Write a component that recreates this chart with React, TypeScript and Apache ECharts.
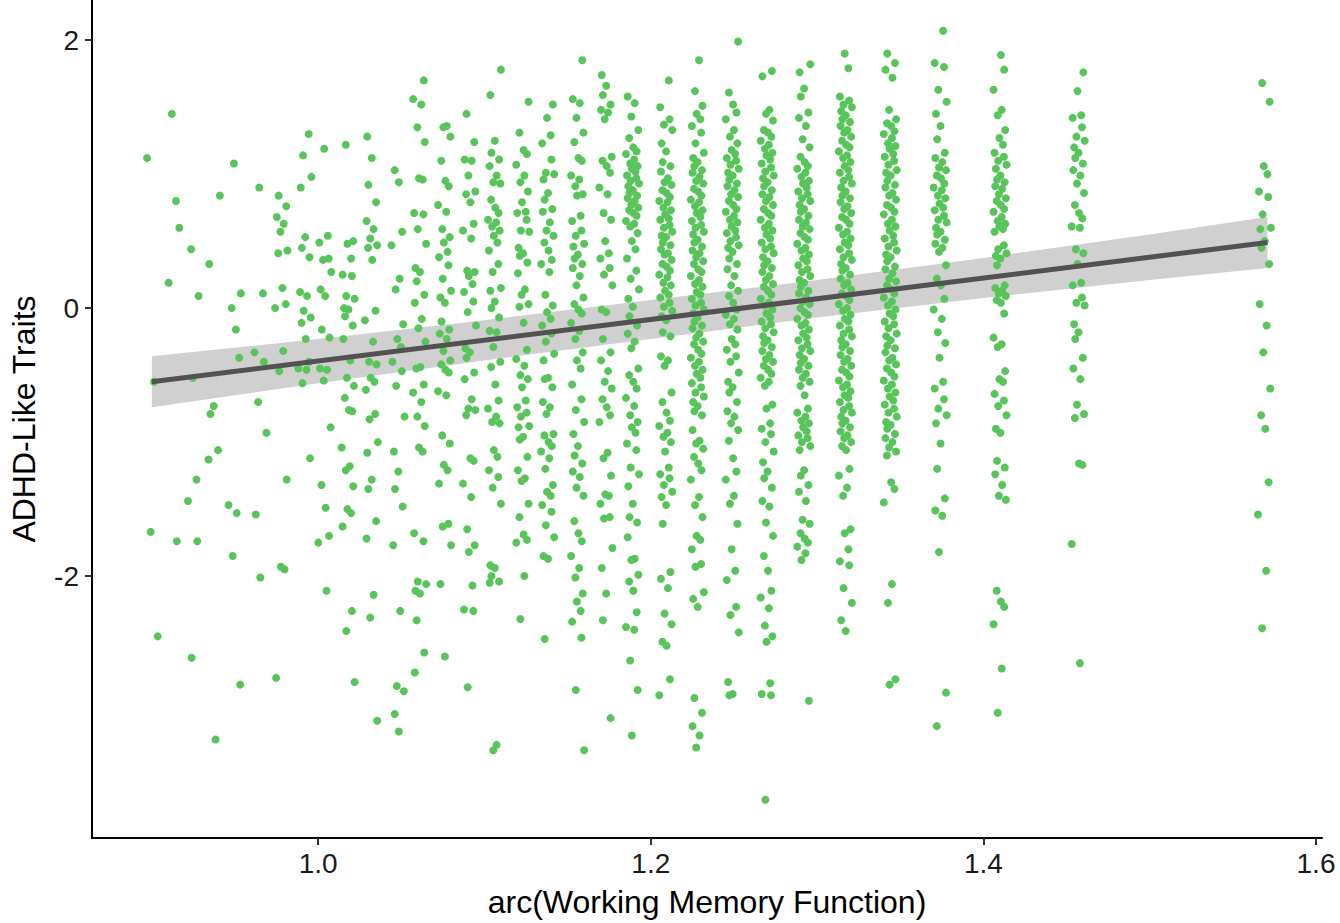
import { useEffect, useRef } from "react";
import * as echarts from "echarts";

// Axis ticks
const X_TICKS = [1.0, 1.2, 1.4, 1.6];
const Y_TICKS = [-2, 0, 2];

// Distinct arc-transformed working-memory scores (one column of points each)
const COLUMN_X = [
  0.9, 0.914, 0.925, 0.937, 0.95, 0.965, 0.978, 0.992, 1.004, 1.018, 1.032,
  1.048, 1.061, 1.076, 1.091, 1.106, 1.123, 1.138, 1.156, 1.173, 1.189, 1.209,
  1.228, 1.249, 1.27, 1.292, 1.317, 1.344, 1.374, 1.41, 1.457, 1.569,
];

// ADHD-like trait scores per column
const COL_01 = [1.12, -0.55, -1.67, -2.45];
const COL_02 = [1.45, 0.8, 0.6, 0.19, -1.74];
const COL_03 = [0.44, 0.09, -0.52, -1.28, -1.44, -1.74, -2.61];
const COL_04 = [0.84, 0.33, -0.73, -0.79, -1.06, -1.13, -3.22];
const COL_05 = [1.08, 0.11, 0.0, -0.16, -0.37, -1.47, -1.53, -1.85, -2.81];
const COL_06 = [0.9, 0.11, -0.33, -0.4, -0.7, -0.93, -1.54, -2.01];
const COL_07 = [0.84, 0.76, 0.68, 0.63, 0.57, 0.43, 0.41, 0.15, 0.03, 0.0, -0.32, -0.47, -1.28, -1.93, -1.95, -2.76];
const COL_08 = [1.3, 1.14, 0.98, 0.9, 0.53, 0.45, 0.38, 0.12, 0.09, -0.02, -0.07, -0.11, -0.23, -0.4, -0.45, -0.46, -0.56, -1.12];
const COL_09 = [1.19, 0.54, 0.49, 0.37, 0.36, 0.27, 0.14, 0.09, -0.16, -0.22, -0.45, -0.46, -0.54, -0.89, -1.32, -1.49, -1.7, -1.75, -2.11];
const COL_10 = [1.22, 0.5, 0.48, 0.37, 0.25, 0.24, 0.09, 0.07, 0.0, -0.01, -0.06, -0.13, -0.23, -0.39, -0.52, -0.58, -0.67, -0.76, -0.77, -1.04, -1.18, -1.21, -1.33, -1.5, -1.53, -1.63, -2.26, -2.41, -2.79];
const COL_11 = [1.28, 1.12, 0.92, 0.79, 0.65, 0.59, 0.52, 0.47, 0.45, 0.36, -0.02, -0.09, -0.25, -0.4, -0.42, -0.52, -0.55, -0.61, -0.79, -0.83, -1.0, -1.08, -1.28, -1.35, -1.59, -1.72, -2.14, -2.31, -3.08];
const COL_12 = [1.03, 0.94, 0.57, 0.47, 0.22, 0.14, -0.12, -0.23, -0.29, -0.4, -0.47, -0.58, -0.81, -1.07, -1.22, -1.35, -1.48, -1.77, -2.26, -2.82, -2.86, -3.03, -3.16];
const COL_13 = [1.7, 1.56, 1.52, 1.35, 1.24, 0.97, 0.96, 0.71, 0.7, 0.59, 0.48, 0.3, 0.27, 0.2, 0.1, 0.04, -0.08, -0.15, -0.25, -0.45, -0.44, -0.57, -0.63, -0.7, -0.81, -0.88, -1.04, -1.07, -1.68, -1.74, -2.04, -2.06, -2.11, -2.13, -2.33, -2.57, -2.72];
const COL_14 = [1.36, 1.35, 1.28, 1.1, 0.95, 0.91, 0.77, 0.72, 0.59, 0.53, 0.49, 0.42, 0.38, 0.32, 0.22, 0.13, 0.08, 0.04, -0.1, -0.16, -0.19, -0.23, -0.32, -0.39, -0.42, -0.46, -0.48, -0.62, -0.65, -0.95, -1.01, -1.17, -1.21, -1.31, -1.61, -1.63, -1.77, -2.06, -2.6];
const COL_15 = [1.45, 1.24, 1.11, 1.1, 0.99, 0.87, 0.85, 0.79, 0.63, 0.58, 0.52, 0.28, 0.27, 0.24, 0.18, 0.12, 0.05, -0.03, -0.13, -0.3, -0.33, -0.37, -0.48, -0.53, -0.68, -0.75, -0.76, -0.8, -1.12, -1.14, -1.31, -1.41, -1.65, -1.77, -1.82, -2.07, -2.25, -2.26, -2.83];
const COL_16 = [1.78, 1.59, 1.25, 1.16, 1.11, 1.06, 0.99, 0.94, 0.93, 0.81, 0.75, 0.71, 0.66, 0.64, 0.61, 0.58, 0.54, 0.49, 0.43, 0.33, 0.27, 0.15, 0.13, 0.05, 0.0, -0.07, -0.17, -0.18, -0.29, -0.4, -0.44, -0.57, -0.69, -0.75, -0.81, -0.85, -0.86, -1.06, -1.11, -1.21, -1.26, -1.34, -1.46, -1.92, -1.94, -2.0, -2.04, -2.05, -3.26, -3.3];
const COL_17 = [1.54, 1.31, 1.18, 1.15, 1.07, 0.99, 0.94, 0.87, 0.79, 0.72, 0.71, 0.66, 0.58, 0.57, 0.45, 0.41, 0.39, 0.34, 0.26, 0.14, 0.1, 0.03, 0.01, -0.11, -0.31, -0.38, -0.43, -0.5, -0.53, -0.59, -0.69, -0.74, -0.78, -0.81, -0.88, -0.89, -0.96, -0.98, -1.11, -1.21, -1.27, -1.29, -1.46, -1.56, -1.69, -1.73, -1.75, -2.0, -2.32];
const COL_18 = [1.52, 1.42, 1.29, 1.23, 1.11, 1.01, 1.0, 0.96, 0.86, 0.81, 0.74, 0.72, 0.64, 0.58, 0.54, 0.49, 0.43, 0.36, 0.33, 0.27, 0.1, 0.02, -0.03, -0.08, -0.13, -0.19, -0.25, -0.34, -0.39, -0.52, -0.53, -0.59, -0.7, -0.74, -0.79, -0.94, -0.95, -1.0, -1.03, -1.07, -1.12, -1.2, -1.32, -1.37, -1.4, -1.47, -1.52, -1.62, -1.71, -1.85, -1.87, -2.47];
const COL_19 = [1.85, 1.56, 1.53, 1.42, 1.31, 1.24, 1.12, 1.1, 0.99, 0.96, 0.91, 0.85, 0.84, 0.69, 0.65, 0.58, 0.54, 0.48, 0.46, 0.4, 0.37, 0.33, 0.3, 0.24, 0.17, 0.08, 0.03, -0.01, -0.04, -0.11, -0.17, -0.23, -0.33, -0.39, -0.45, -0.57, -0.68, -0.76, -0.85, -0.94, -1.03, -1.1, -1.16, -1.22, -1.26, -1.34, -1.4, -1.59, -1.68, -1.74, -1.85, -1.94, -2.01, -2.13, -2.19, -2.26, -2.34, -2.46, -2.85, -3.3];
const COL_20 = [1.74, 1.66, 1.59, 1.52, 1.48, 1.46, 1.41, 1.13, 1.1, 1.06, 1.01, 0.9, 0.85, 0.71, 0.66, 0.5, 0.41, 0.37, 0.3, 0.25, 0.17, -0.01, -0.03, -0.23, -0.33, -0.39, -0.47, -0.55, -0.6, -0.68, -0.74, -0.8, -0.85, -1.08, -1.12, -1.25, -1.39, -1.4, -1.46, -1.56, -1.57, -1.79, -1.94, -2.13, -2.33, -3.06];
const COL_21 = [1.58, 1.53, 1.43, 1.33, 1.27, 1.2, 1.17, 1.15, 1.11, 1.08, 1.06, 1.04, 1.02, 0.99, 0.97, 0.95, 0.93, 0.91, 0.88, 0.86, 0.84, 0.82, 0.8, 0.77, 0.75, 0.73, 0.71, 0.69, 0.65, 0.63, 0.61, 0.56, 0.5, 0.44, 0.37, 0.28, 0.22, 0.14, 0.07, 0.01, -0.06, -0.13, -0.19, -0.25, -0.3, -0.45, -0.5, -0.55, -0.6, -0.67, -0.73, -0.8, -0.85, -0.89, -0.93, -1.01, -1.06, -1.19, -1.24, -1.33, -1.46, -1.56, -1.6, -1.71, -1.87, -1.88, -1.99, -2.04, -2.11, -2.27, -2.38, -2.4, -2.63, -2.85, -3.19];
const COL_22 = [1.7, 1.5, 1.41, 1.37, 1.33, 1.23, 1.17, 1.09, 1.06, 1.02, 0.97, 0.94, 0.92, 0.88, 0.86, 0.83, 0.8, 0.79, 0.75, 0.73, 0.7, 0.67, 0.66, 0.62, 0.6, 0.57, 0.54, 0.53, 0.49, 0.47, 0.44, 0.41, 0.4, 0.36, 0.33, 0.31, 0.28, 0.25, 0.23, 0.19, 0.17, 0.13, 0.1, 0.08, 0.04, 0.01, -0.02, -0.06, -0.09, -0.18, -0.21, -0.36, -0.39, -0.43, -0.63, -0.7, -0.78, -0.84, -0.88, -0.93, -0.96, -1.0, -1.07, -1.19, -1.24, -1.27, -1.32, -1.37, -1.41, -1.47, -1.61, -1.97, -2.02, -2.09, -2.28, -2.36, -2.49, -2.52, -2.77, -2.89];
const COL_23 = [1.85, 1.62, 1.51, 1.45, 1.41, 1.36, 1.31, 1.23, 1.16, 1.12, 1.09, 1.06, 1.03, 1.01, 0.98, 0.95, 0.93, 0.89, 0.87, 0.84, 0.81, 0.79, 0.76, 0.73, 0.71, 0.68, 0.65, 0.62, 0.6, 0.57, 0.55, 0.51, 0.49, 0.46, 0.43, 0.41, 0.38, 0.35, 0.33, 0.29, 0.27, 0.24, 0.21, 0.18, 0.16, 0.12, 0.1, 0.07, 0.04, 0.02, -0.01, -0.04, -0.07, -0.1, -0.13, -0.15, -0.19, -0.22, -0.25, -0.27, -0.31, -0.34, -0.37, -0.4, -0.43, -0.46, -0.49, -0.52, -0.56, -0.59, -0.63, -0.66, -0.7, -0.73, -0.77, -0.8, -0.91, -0.99, -1.01, -1.05, -1.11, -1.16, -1.21, -1.28, -1.41, -1.47, -1.56, -1.7, -1.73, -1.8, -1.91, -1.93, -2.12, -2.17, -2.23, -2.91, -3.02, -3.12, -3.19, -3.28];
const COL_24 = [1.99, 1.61, 1.52, 1.46, 1.41, 1.33, 1.28, 1.23, 1.18, 1.15, 1.12, 1.1, 1.07, 1.04, 1.01, 0.99, 0.96, 0.93, 0.91, 0.88, 0.85, 0.83, 0.8, 0.77, 0.74, 0.72, 0.69, 0.66, 0.64, 0.61, 0.58, 0.56, 0.53, 0.5, 0.47, 0.45, 0.42, 0.37, 0.33, 0.29, 0.24, 0.17, 0.13, 0.09, 0.04, -0.01, -0.05, -0.08, -0.12, -0.16, -0.23, -0.27, -0.31, -0.36, -0.4, -0.48, -0.55, -0.59, -0.63, -0.7, -0.77, -0.81, -0.86, -0.91, -0.99, -1.12, -1.22, -1.28, -1.4, -1.46, -1.61, -1.8, -1.96, -2.03, -2.23, -2.29, -2.42, -2.79, -2.88, -2.89];
const COL_25 = [1.77, 1.73, 1.48, 1.45, 1.4, 1.33, 1.31, 1.28, 1.25, 1.22, 1.19, 1.16, 1.14, 1.11, 1.08, 1.05, 1.02, 0.99, 0.97, 0.94, 0.91, 0.88, 0.85, 0.83, 0.8, 0.77, 0.74, 0.71, 0.69, 0.66, 0.63, 0.6, 0.58, 0.55, 0.52, 0.49, 0.46, 0.44, 0.41, 0.38, 0.35, 0.32, 0.3, 0.27, 0.24, 0.21, 0.18, 0.16, 0.13, 0.1, 0.07, 0.04, 0.02, -0.01, -0.04, -0.07, -0.1, -0.12, -0.15, -0.18, -0.21, -0.24, -0.26, -0.29, -0.32, -0.35, -0.38, -0.4, -0.43, -0.46, -0.49, -0.52, -0.55, -0.58, -0.72, -0.75, -0.86, -0.9, -0.94, -1.0, -1.07, -1.15, -1.22, -1.27, -1.34, -1.44, -1.48, -1.6, -1.7, -1.85, -1.96, -2.11, -2.16, -2.24, -2.37, -2.45, -2.49, -2.8, -2.88, -2.89, -3.67];
const COL_26 = [1.82, 1.76, 1.64, 1.58, 1.46, 1.42, 1.36, 1.26, 1.2, 1.13, 1.09, 1.06, 1.04, 1.01, 0.98, 0.95, 0.93, 0.9, 0.87, 0.85, 0.82, 0.8, 0.77, 0.74, 0.72, 0.69, 0.66, 0.64, 0.61, 0.59, 0.56, 0.53, 0.51, 0.48, 0.45, 0.43, 0.4, 0.37, 0.35, 0.32, 0.29, 0.27, 0.24, 0.21, 0.19, 0.16, 0.13, 0.11, 0.08, 0.05, 0.03, 0.0, -0.03, -0.05, -0.08, -0.11, -0.13, -0.16, -0.19, -0.22, -0.24, -0.27, -0.3, -0.32, -0.35, -0.38, -0.41, -0.43, -0.46, -0.49, -0.52, -0.55, -0.58, -0.65, -0.75, -0.78, -0.81, -0.84, -0.86, -0.89, -0.92, -0.95, -0.97, -1.0, -1.03, -1.06, -1.21, -1.25, -1.32, -1.37, -1.44, -1.58, -1.61, -1.68, -1.72, -1.75, -1.78, -1.83, -1.88, -2.93];
const COL_27 = [1.9, 1.79, 1.58, 1.55, 1.52, 1.5, 1.47, 1.44, 1.41, 1.39, 1.36, 1.33, 1.31, 1.28, 1.25, 1.22, 1.2, 1.17, 1.14, 1.12, 1.09, 1.06, 1.03, 1.01, 0.98, 0.95, 0.93, 0.9, 0.87, 0.84, 0.82, 0.79, 0.76, 0.74, 0.71, 0.68, 0.66, 0.63, 0.6, 0.57, 0.55, 0.52, 0.49, 0.47, 0.44, 0.41, 0.38, 0.36, 0.33, 0.3, 0.28, 0.25, 0.22, 0.19, 0.17, 0.14, 0.11, 0.09, 0.06, 0.03, 0.0, -0.02, -0.05, -0.08, -0.1, -0.13, -0.16, -0.19, -0.21, -0.24, -0.27, -0.29, -0.32, -0.35, -0.38, -0.4, -0.43, -0.46, -0.48, -0.51, -0.54, -0.57, -0.59, -0.62, -0.65, -0.67, -0.7, -0.73, -0.76, -0.78, -0.81, -0.84, -0.86, -0.89, -0.92, -0.95, -0.97, -1.0, -1.03, -1.06, -1.2, -1.25, -1.34, -1.4, -1.65, -1.68, -1.8, -1.89, -1.92, -2.09, -2.2, -2.33, -2.41];
const COL_28 = [1.9, 1.83, 1.78, 1.72, 1.48, 1.41, 1.38, 1.36, 1.32, 1.3, 1.27, 1.23, 1.21, 1.19, 1.15, 1.13, 1.1, 1.07, 1.03, 1.01, 0.99, 0.95, 0.92, 0.9, 0.86, 0.84, 0.81, 0.77, 0.75, 0.72, 0.7, 0.66, 0.63, 0.61, 0.58, 0.54, 0.52, 0.49, 0.46, 0.43, 0.4, 0.38, 0.35, 0.31, 0.29, 0.26, 0.22, 0.2, 0.17, 0.14, 0.11, 0.08, 0.05, 0.02, -0.01, -0.04, -0.06, -0.1, -0.12, -0.15, -0.19, -0.21, -0.24, -0.28, -0.3, -0.33, -0.37, -0.39, -0.42, -0.45, -0.48, -0.51, -0.54, -0.57, -0.6, -0.63, -0.66, -0.69, -0.72, -0.75, -0.78, -0.81, -0.85, -0.87, -0.9, -0.94, -0.97, -1.0, -1.04, -1.07, -1.1, -1.3, -1.35, -1.45, -2.06, -2.2, -2.77, -2.81];
const COL_29 = [2.07, 1.83, 1.8, 1.63, 1.54, 1.45, 1.36, 1.26, 1.16, 1.12, 1.09, 1.05, 1.03, 0.99, 0.97, 0.93, 0.9, 0.88, 0.84, 0.82, 0.78, 0.75, 0.73, 0.69, 0.66, 0.64, 0.6, 0.57, 0.55, 0.51, 0.48, 0.45, 0.42, 0.32, 0.22, 0.17, 0.07, -0.01, -0.08, -0.18, -0.26, -0.37, -0.55, -0.6, -0.68, -0.75, -0.8, -0.86, -1.01, -1.2, -1.42, -1.51, -1.55, -1.82, -2.87, -3.12];
const COL_30 = [1.89, 1.78, 1.63, 1.48, 1.44, 1.33, 1.27, 1.22, 1.16, 1.13, 1.1, 1.07, 1.04, 0.99, 0.96, 0.94, 0.91, 0.89, 0.85, 0.82, 0.8, 0.77, 0.74, 0.72, 0.68, 0.65, 0.63, 0.61, 0.59, 0.57, 0.47, 0.44, 0.41, 0.39, 0.37, 0.32, 0.17, 0.15, 0.13, 0.11, 0.09, 0.06, 0.04, -0.04, -0.22, -0.27, -0.29, -0.47, -0.53, -0.55, -0.64, -0.69, -0.73, -0.8, -0.9, -0.93, -1.14, -1.19, -1.24, -1.32, -1.4, -1.43, -2.11, -2.19, -2.23, -2.36, -2.69, -3.02];
const COL_31 = [1.76, 1.62, 1.44, 1.42, 1.35, 1.28, 1.25, 1.2, 1.16, 1.12, 1.08, 1.03, 0.99, 0.93, 0.86, 0.77, 0.71, 0.67, 0.61, 0.6, 0.44, 0.41, 0.33, 0.19, 0.17, 0.08, 0.04, 0.02, -0.12, -0.18, -0.23, -0.37, -0.45, -0.53, -0.72, -0.79, -0.82, -1.16, -1.17, -1.76, -2.65];
const COL_32 = [1.68, 1.54, 1.06, 1.0, 0.87, 0.83, 0.7, 0.6, 0.59, 0.5, 0.45, 0.33, 0.03, -0.13, -0.33, -0.6, -0.8, -0.9, -1.3, -1.54, -1.96, -2.39];

const COLUMNS = [
  COL_01, COL_02, COL_03, COL_04, COL_05, COL_06, COL_07, COL_08, COL_09, COL_10,
  COL_11, COL_12, COL_13, COL_14, COL_15, COL_16, COL_17, COL_18, COL_19, COL_20,
  COL_21, COL_22, COL_23, COL_24, COL_25, COL_26, COL_27, COL_28, COL_29, COL_30,
  COL_31, COL_32,
];

// Horizontal jitter offsets (x units), cycled across points
const JITTER = [
  -0.0029, 0.0013, -0.0007, 0.0035, -0.002, 0.0005, 0.0025, -0.0039, 0.001,
  -0.0014, 0.0031, -0.0004, 0.0018, -0.0033, 0.0023, -0.0011, 0.0039, -0.0025,
  0.0002, -0.0018, 0.0028,
];

// Linear fit and its confidence band
const FIT_X = [0.9, 1.5708];
const FIT_Y = [-0.55, 0.49];
const BAND_X = [0.9, 1.0, 1.1, 1.2, 1.3, 1.4, 1.5, 1.5708];
const BAND_LO = [-0.74, -0.56, -0.39, -0.23, -0.07, 0.075, 0.21, 0.3];
const BAND_HI = [-0.36, -0.23, -0.09, 0.06, 0.21, 0.375, 0.55, 0.68];

const FONT = "'Liberation Sans', Arial, Helvetica, sans-serif";

function buildPoints(): number[][] {
  const pts: number[][] = [];
  let k = 0;
  COLUMNS.forEach((ys, i) => {
    ys.forEach((y) => {
      pts.push([COLUMN_X[i] + JITTER[k % JITTER.length], y]);
      k++;
    });
  });
  return pts;
}

export default function App() {
  const ref = useRef<HTMLDivElement>(null);

  useEffect(() => {
    if (!ref.current) return;
    const chart = echarts.init(ref.current, null, { renderer: "svg" });
    chart.setOption({
      animation: false,
      backgroundColor: "#ffffff",
      grid: { left: 92, right: 18, top: 0, bottom: 83, containLabel: false },
      xAxis: {
        type: "value",
        min: 0.864,
        max: 1.6036,
        name: "arc(Working Memory Function)",
        nameLocation: "middle",
        nameGap: 48,
        nameTextStyle: { fontFamily: FONT, fontSize: 32, color: "#000" },
        axisLine: { show: true, onZero: false, lineStyle: { color: "#000", width: 2 } },
        axisTick: {
          show: true,
          customValues: X_TICKS,
          length: 7,
          lineStyle: { color: "#333", width: 2 },
        },
        axisLabel: {
          customValues: X_TICKS,
          formatter: (v: number) => v.toFixed(1),
          fontFamily: FONT,
          fontSize: 28,
          color: "#1a1a1a",
          margin: 11,
        },
        splitLine: { show: false },
      },
      yAxis: {
        type: "value",
        min: -3.955,
        max: 2.3,
        name: "ADHD-Like Traits",
        nameLocation: "middle",
        nameGap: 52,
        nameTextStyle: { fontFamily: FONT, fontSize: 32, color: "#000" },
        axisLine: { show: true, onZero: false, lineStyle: { color: "#000", width: 2 } },
        axisTick: {
          show: true,
          customValues: Y_TICKS,
          length: 7,
          lineStyle: { color: "#333", width: 2 },
        },
        axisLabel: {
          customValues: Y_TICKS,
          formatter: (v: number) => String(v),
          fontFamily: FONT,
          fontSize: 28,
          color: "#1a1a1a",
          margin: 13,
        },
        splitLine: { show: false },
      },
      series: [
        {
          type: "custom",
          silent: true,
          z: 1,
          data: [[BAND_X[0], BAND_LO[0]]],
          renderItem: (_params: any, api: any) => {
            const pts: number[][] = [];
            BAND_X.forEach((x, i) => pts.push(api.coord([x, BAND_HI[i]])));
            for (let i = BAND_X.length - 1; i >= 0; i--) {
              pts.push(api.coord([BAND_X[i], BAND_LO[i]]));
            }
            return { type: "polygon", shape: { points: pts }, style: { fill: "#D0D0D0" } };
          },
        },
        {
          type: "scatter",
          z: 2,
          symbol: "circle",
          symbolSize: 8,
          itemStyle: { color: "#58C55A", opacity: 1 },
          data: buildPoints(),
        },
        {
          type: "line",
          z: 3,
          symbol: "none",
          silent: true,
          lineStyle: { color: "#525252", width: 5 },
          data: FIT_X.map((x, i) => [x, FIT_Y[i]]),
        },
      ],
    });
    return () => chart.dispose();
  }, []);

  return (
    <div
      ref={ref}
      style={{ position: "absolute", left: 0, top: 0, width: 1340, height: 923 }}
    />
  );
}
